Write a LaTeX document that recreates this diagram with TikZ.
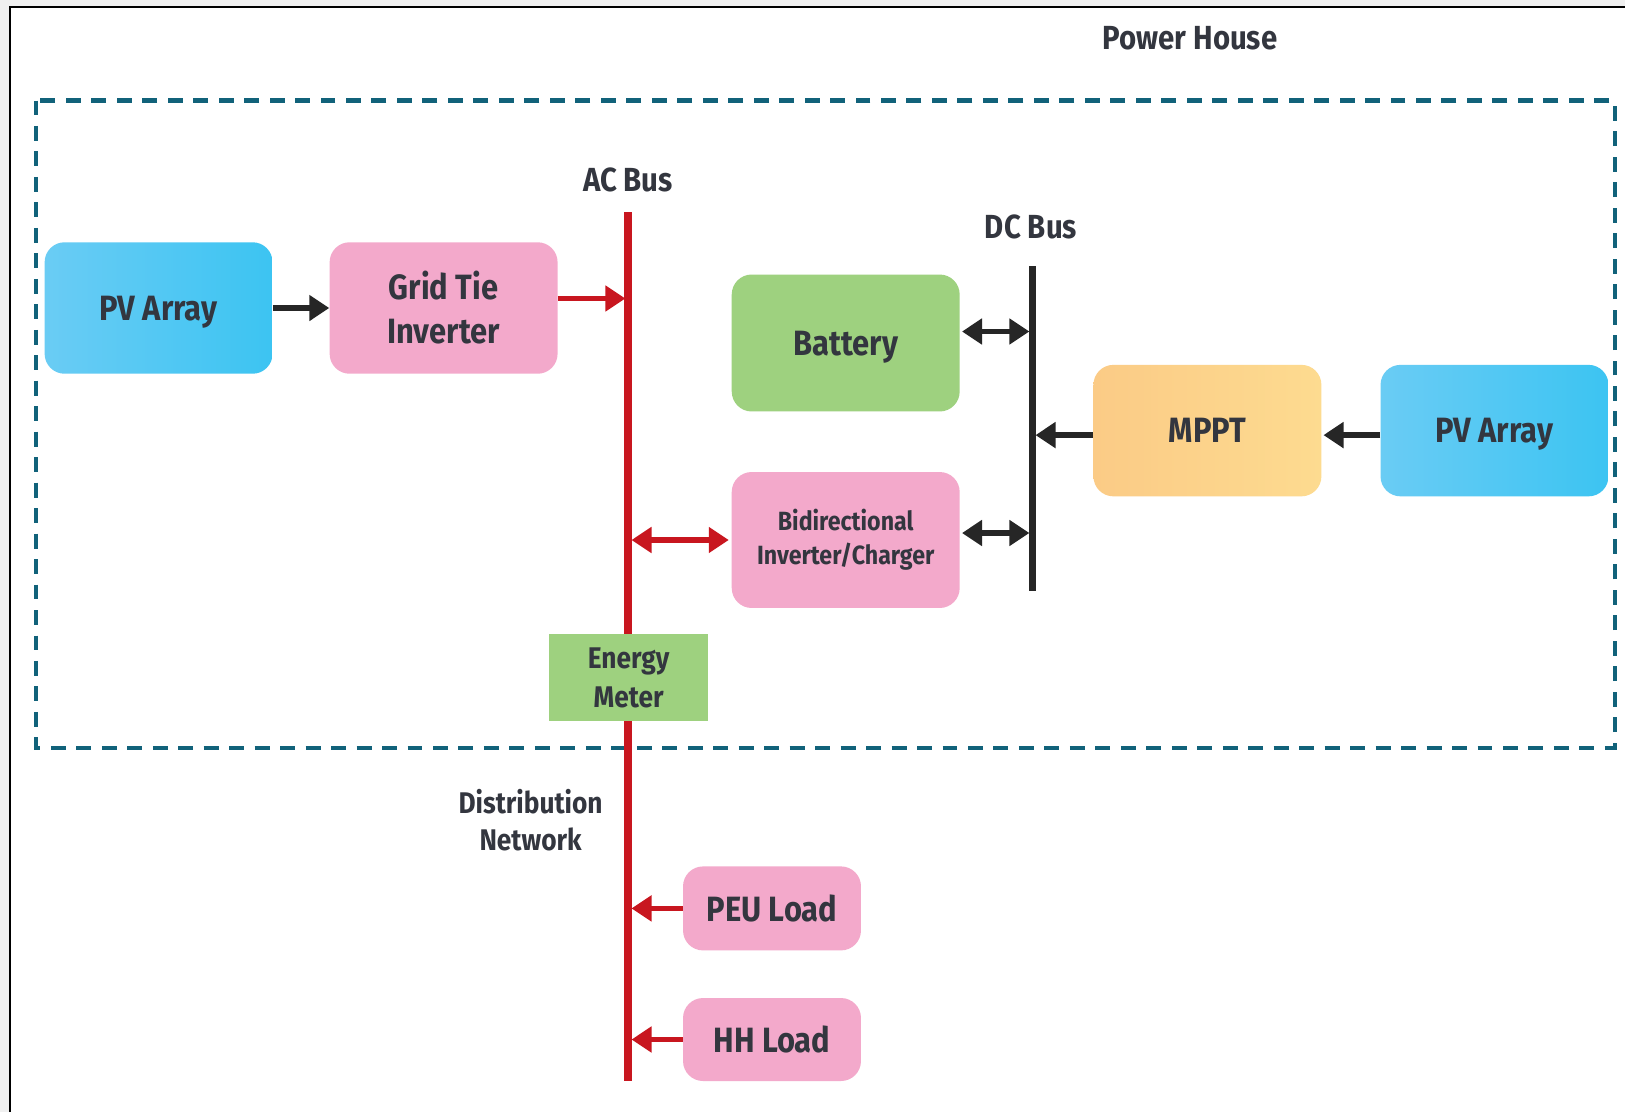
\documentclass[tikz,border=0pt]{standalone}
\usepackage{fontspec}
\setmainfont{Fira Sans}[FakeStretch=0.88]
\usetikzlibrary{arrows.meta,positioning}
\definecolor{txt}{HTML}{33363F}
\definecolor{pvL}{HTML}{6ACCF4}
\definecolor{pvR}{HTML}{3CC4F2}
\definecolor{pinkbox}{HTML}{F3A9CB}
\definecolor{greenbox}{HTML}{9ED17F}
\definecolor{mpL}{HTML}{FBCB86}
\definecolor{mpR}{HTML}{FDDB90}
\definecolor{busred}{HTML}{C8161F}
\definecolor{teal}{HTML}{11627A}
\tikzset{
  box/.style={rounded corners=0.4cm, minimum width=4.56cm, minimum height=2.63cm,
    align=center, text=txt, font=\fontsize{20}{25}\selectfont\bfseries},
  pvbox/.style={box, left color=pvL, right color=pvR, text depth=0pt},
  pinkbx/.style={box, fill=pinkbox},
  label/.style={text=txt, align=center, font=\fontsize{19}{22}\selectfont\bfseries},
  blk/.style={line width=3.3pt, color=black!85, -{Triangle[length=4mm,width=5mm]}},
  blkboth/.style={blk, {Triangle[length=4mm,width=5mm]}-{Triangle[length=4mm,width=5mm]}},
  red/.style={line width=3.3pt, color=busred, -{Triangle[length=4mm,width=5mm]}},
  redboth/.style={red, {Triangle[length=4mm,width=5mm]}-{Triangle[length=4mm,width=5mm]}}
}
\begin{document}
\begin{tikzpicture}[x=0.02cm,y=-0.02cm]
\useasboundingbox (0,0) rectangle (1625,1112);
% page frame
\fill[black!6] (0,0) rectangle (1625,1112);
\fill[white] (10.4,7.3) rectangle (1625,1112);
\draw[line width=1.1pt] (10.4,1112) -- (10.4,7.3) -- (1625,7.3);
% power house
\draw[teal, line width=2.3pt, dash pattern=on 8.5pt off 6pt] (36,100.5) rectangle (1614.5,748);
\node[label] (house) at (1190,38) {Power House};

% buses
\coordinate (actop) at (628,212);
\coordinate (acbot) at (628,1081);
\coordinate (dctop) at (1032,266);
\coordinate (dcbot) at (1032,591);
\draw[busred, line width=4pt] (actop) -- (acbot);
\draw[black!85, line width=4pt] (dctop) -- (dcbot);
\node[label] (aclbl) at (628,180) {AC Bus};
\node[label] (dclbl) at (1031,227) {DC Bus};

% boxes
\node[pvbox] (pv1) at (158.6,308) {PV Array};
\node[pinkbx] (gti) at (443.6,308) {Grid Tie\\Inverter};
\node[box, fill=greenbox, minimum height=2.74cm, text depth=0pt] (bat) at (845.7,343) {Battery};
\node[pinkbx, minimum height=2.72cm, font=\fontsize{15}{19.4}\selectfont\bfseries] (bidir) at (845.7,540) {Bidirectional\\Inverter/Charger};
\node[box, left color=mpL, right color=mpR] (mppt) at (1207.4,430.6) {MPPT};
\node[pvbox] (pv2) at (1494.5,430.6) {PV Array};
\node[fill=greenbox, minimum width=3.17cm, minimum height=1.74cm, align=center, text=txt,
  font=\fontsize{17}{21.8}\selectfont\bfseries] (meter) at (628.6,677.8) {Energy\\Meter};
\node[label, font=\fontsize{17}{21.3}\selectfont\bfseries] (dist) at (530.6,820) {Distribution\\Network};
\node[pinkbx, minimum width=3.56cm, minimum height=1.68cm] (peu) at (772,908.4) {PEU Load};
\node[pinkbx, minimum width=3.56cm, minimum height=1.66cm] (hh) at (772,1039.5) {HH Load};

% connectors
\coordinate (g1) at ([yshift=0.19cm]gti.east);
\coordinate (b1) at ([xshift=0.04cm,yshift=0.23cm]bat.east);
\coordinate (c1) at ([xshift=0.04cm,yshift=0.14cm]bidir.east);
\coordinate (m1) at ([yshift=-0.09cm]mppt.west);
\coordinate (p1) at ([yshift=-0.09cm]pv2.west);
\draw[blk] (pv1) -- (gti);
\draw[red, shorten >=1.5pt] (g1) -- (g1 -| actop);
\draw[blkboth, shorten >=1.5pt] (b1) -- (b1 -| dctop);
\draw[blkboth, shorten >=1.5pt] (c1) -- (c1 -| dctop);
\draw[redboth, shorten <=2pt, shorten >=1.5pt] (bidir.west -| actop) -- (bidir.west);
\draw[blk, shorten >=2pt] (m1) -- (m1 -| dctop);
\draw[blk, shorten >=1pt] (p1) -- (p1 -| mppt.east);
\draw[red, shorten >=2pt] (peu) -- (peu.west -| actop);
\draw[red, shorten >=2pt] (hh) -- (hh.west -| actop);
\end{tikzpicture}
\end{document}
